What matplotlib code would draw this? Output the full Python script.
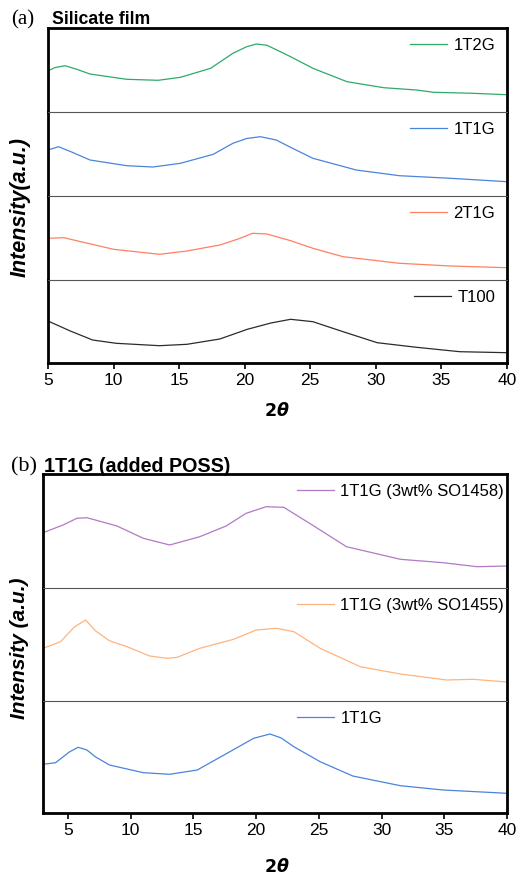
import matplotlib
matplotlib.use("Agg")
import matplotlib.pyplot as plt

plt.rcParams['font.family'] = ['Liberation Sans', 'DejaVu Sans']

# (a) silicate films, x = 2theta, y = intensity (a.u.)
x_1t2g = [5, 5.5, 6.3, 7.2, 8.2, 11, 13.4, 15.1, 17.4, 19.1, 20.15, 20.9, 21.7, 22.45, 23.5, 25.2, 27.8, 30.6, 33.1, 34.4, 37.4, 40]
y_1t2g = [41, 44.3, 46.3, 42.7, 38, 32.7, 31.7, 34.7, 43.7, 58.7, 65.3, 68, 66.7, 62, 55.3, 43.7, 30.3, 24.3, 22, 19.7, 18.7, 17.3]

x_1t1g = [5, 5.8, 6.8, 8.2, 11, 13, 15.1, 17.6, 19.1, 20.15, 21.2, 22.4, 23.6, 25.2, 28.5, 31.8, 35.7, 40]
y_1t1g = [46, 49.3, 44, 36, 30.3, 29, 32.7, 41.7, 52.7, 57.5, 59.3, 56, 48, 37.7, 26, 20.3, 17.7, 14.3]

x_2t1g = [5, 6.2, 10, 13.5, 15.6, 18.1, 19.5, 20.6, 21.7, 23.5, 25.2, 27.5, 31.8, 35.7, 40]
y_2t1g = [41.7, 42.3, 30.7, 25.7, 29, 35, 41, 46.7, 46, 39.3, 31.7, 23.3, 16.7, 14, 12.3]

x_t100 = [5, 6.7, 8.4, 10.2, 13.5, 15.6, 18.1, 20.2, 22, 23.5, 25.2, 27.5, 30.1, 33.1, 36.4, 40]
y_t100 = [42, 32, 23, 19.7, 17.3, 18.7, 24, 33.7, 40, 43.7, 41.3, 31.3, 20.3, 15.7, 11.3, 10.3]

# (b) 1T1G with added POSS
x_so1458 = [3, 4.6, 5.7, 6.5, 8.9, 11, 13.1, 15.5, 17.6, 19.2, 20.8, 22.2, 24.6, 27.2, 31.5, 34.9, 37.6, 40]
y_so1458 = [55.3, 63, 69.7, 70.3, 62, 49.7, 43, 51.3, 62, 74.7, 81.3, 80.7, 62, 41.3, 28.7, 25.3, 21.3, 22]

x_so1455 = [3, 4.4, 5.5, 6.4, 7.2, 8.3, 9.7, 11.5, 12.9, 13.7, 15.5, 18.2, 20, 21.6, 23, 25.1, 28.3, 31.5, 35.2, 37.3, 40]
y_so1455 = [52.7, 59.3, 74, 81, 70, 60.3, 54.3, 45, 42.7, 43.7, 52.7, 61.7, 71, 72.7, 69.3, 52.7, 34.3, 27, 21, 21.7, 19]

x_1t1g_b = [3, 4, 5.1, 5.8, 6.5, 7.2, 8.3, 11, 13.1, 15.3, 17.9, 19.8, 21.1, 22, 23, 25.1, 27.7, 31.5, 34.9, 40]
y_1t1g_b = [48.7, 50.3, 61, 65.7, 63, 56, 48, 40.3, 38.7, 43, 61.3, 74.7, 79, 75, 66.3, 51.3, 37, 27.3, 23, 19.7]

ticks = [5, 10, 15, 20, 25, 30, 35, 40]

W, H = 518, 874
fig = plt.figure(figsize=(W / 100, H / 100), dpi=100)


def stack(left, right, edges, series, xlim, leg_loc, leg_x):
    n = len(series)
    axes = []
    for i, (xs, ys, col, lab) in enumerate(series):
        top, bot = edges[i], edges[i + 1]
        ax = fig.add_axes([left / W, 1 - bot / H, (right - left) / W, (bot - top) / H])
        ax.plot(xs, ys, color=col, lw=0.9, label=lab)
        ax.set_xlim(*xlim)
        ax.set_ylim(0, bot - top)
        ax.set_yticks([])
        for s in ('left', 'right'):
            ax.spines[s].set_linewidth(2)
        if i == 0:
            ax.spines['top'].set_linewidth(2)
        else:
            ax.spines['top'].set_linewidth(0.8)
            ax.spines['top'].set_color('#555555')
        if i == n - 1:
            ax.spines['bottom'].set_linewidth(2)
            ax.set_xticks(ticks)
            ax.tick_params(axis='x', direction='out', length=4, width=1.2, labelsize=12.5, pad=3)
        else:
            ax.spines['bottom'].set_visible(False)
            ax.set_xticks([])
        ax.patch.set_alpha(0)
        ax.legend(loc=leg_loc, bbox_to_anchor=(leg_x, 1.0), frameon=False, fontsize=12,
                  handlelength=2.2, handletextpad=0.4, borderaxespad=0.2)
        axes.append(ax)
    return axes


top_axes = stack(48, 507, [28, 112, 196, 280, 363],
                 [(x_1t2g, y_1t2g, '#2eaa68', '1T2G'),
                  (x_1t1g, y_1t1g, '#4a84dc', '1T1G'),
                  (x_2t1g, y_2t1g, '#ff8062', '2T1G'),
                  (x_t100, y_t100, '#2b2b2b', 'T100')],
                 (5, 40), 'upper right', 0.996)

bot_axes = stack(43, 507, [474, 588, 701, 813],
                 [(x_so1458, y_so1458, '#b07ac4', '1T1G (3wt% SO1458)'),
                  (x_so1455, y_so1455, '#ffb47c', '1T1G (3wt% SO1455)'),
                  (x_1t1g_b, y_1t1g_b, '#4a84dc', '1T1G')],
                 (3, 40), 'upper left', 0.526)

fig.text(11 / W, 1 - 20 / H, '(a)', family='Liberation Serif', fontsize=15, va='center')
fig.text(52 / W, 1 - 20 / H, 'Silicate film', fontweight='bold', fontsize=12.7, va='center')
fig.text(11 / W, 1 - 467 / H, '(b)', family='Liberation Serif', fontsize=16, va='center')
fig.text(44 / W, 1 - 467 / H, '1T1G (added POSS)', fontweight='bold', fontsize=14.2, va='center')

fig.text(20 / W, 1 - 207 / H, 'Intensity(a.u.)', rotation=90, fontweight='bold', style='italic',
         fontsize=15.5, ha='center', va='center')
fig.text(20 / W, 1 - 648 / H, 'Intensity (a.u.)', rotation=90, fontweight='bold', style='italic',
         fontsize=15, ha='center', va='center')

fig.text(277 / W, 1 - 410 / H, r'$\mathbf{2}\boldsymbol{\theta}$', fontsize=12.5, ha='center', va='center')
fig.text(277 / W, 1 - 866 / H, r'$\mathbf{2}\boldsymbol{\theta}$', fontsize=12.5, ha='center', va='center')

fig.savefig('out.png', dpi=100)
